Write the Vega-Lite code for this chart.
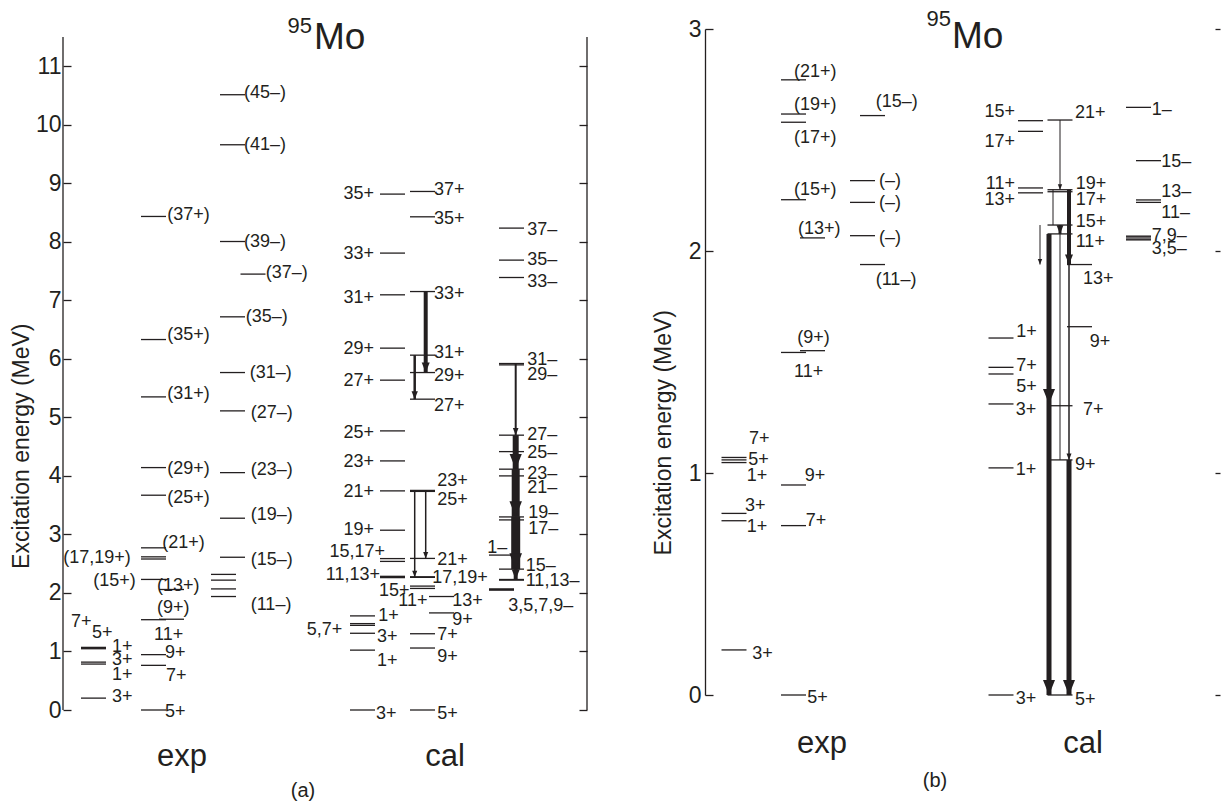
{
"$schema":"https://vega.github.io/schema/vega-lite/v6.json",
"padding":{"left":10,"top":7,"right":0,"bottom":0},
"bounds":"flush",
"spacing":118,
"config":{"view":{"stroke":null},"font":"Liberation Sans","axis":{"labelFont":"Liberation Sans","titleFont":"Liberation Sans","grid":false},"text":{"font":"Liberation Sans","color":"#231f20"}},
"datasets":{
"one":[{}],
"levA":[
{"col":3.05,"E":0.203},{"col":3.05,"E":0.785},{"col":3.05,"E":0.818},{"col":3.05,"E":1.047},{"col":3.05,"E":1.059},{"col":3.05,"E":1.070},
{"col":9.05,"E":0},{"col":9.05,"E":0.763},{"col":9.05,"E":0.946},{"col":9.05,"E":1.543},{"col":9.05,"E":2.231},{"col":9.05,"E":2.580},{"col":9.05,"E":2.617},{"col":9.05,"E":2.771},{"col":9.05,"E":3.670},{"col":9.05,"E":4.142},{"col":9.05,"E":5.350},{"col":9.05,"E":6.330},{"col":9.05,"E":8.433},
{"col":10.85,"E":1.551},{"col":10.85,"E":2.059},
{"col":16.05,"E":1.939},{"col":16.05,"E":2.069},{"col":16.05,"E":2.219},{"col":16.05,"E":2.317},
{"col":16.95,"E":2.610},{"col":16.95,"E":3.277},{"col":16.95,"E":4.056},{"col":16.95,"E":5.111},{"col":16.95,"E":5.766},{"col":16.95,"E":6.718},{"col":16.95,"E":8.005},{"col":16.95,"E":9.658},{"col":16.95,"E":10.513},
{"col":19.0,"E":7.448},
{"col":29.95,"E":0},{"col":29.95,"E":1.023},{"col":29.95,"E":1.311},{"col":29.95,"E":1.446},{"col":29.95,"E":1.476},{"col":29.95,"E":1.608},
{"col":32.95,"E":2.262},{"col":32.95,"E":2.284},{"col":32.95,"E":2.539},{"col":32.95,"E":2.587},{"col":32.95,"E":3.072},{"col":32.95,"E":3.744},{"col":32.95,"E":4.256},{"col":32.95,"E":4.769},{"col":32.95,"E":5.636},{"col":32.95,"E":6.183},{"col":32.95,"E":7.094},{"col":32.95,"E":7.807},{"col":32.95,"E":8.815},
{"col":35.95,"E":0},{"col":35.95,"E":1.059},{"col":35.95,"E":1.303},{"col":35.95,"E":2.077},{"col":35.95,"E":2.117},{"col":35.95,"E":2.267},{"col":35.95,"E":2.276},{"col":35.95,"E":2.590},{"col":35.95,"E":3.735},{"col":35.95,"E":3.752},{"col":35.95,"E":5.311},{"col":35.95,"E":5.766},{"col":35.95,"E":6.063},{"col":35.95,"E":7.150},{"col":35.95,"E":8.427},{"col":35.95,"E":8.860},
{"col":37.85,"E":1.659},{"col":37.85,"E":1.939},
{"col":44.85,"E":2.219},{"col":44.85,"E":2.230},{"col":44.85,"E":2.407},{"col":44.85,"E":3.248},{"col":44.85,"E":3.299},{"col":44.85,"E":4.000},{"col":44.85,"E":4.115},{"col":44.85,"E":4.415},{"col":44.85,"E":4.696},{"col":44.85,"E":5.897},{"col":44.85,"E":5.920},{"col":44.85,"E":7.390},{"col":44.85,"E":7.687},{"col":44.85,"E":8.234},
{"col":43.85,"E":2.647},{"col":43.85,"E":2.050},{"col":43.85,"E":2.054},{"col":43.85,"E":2.063},{"col":43.85,"E":2.067}
],
"trA":[
{"col":36.27,"Ei":7.150,"Ef":5.766,"w":4},
{"col":35.17,"Ei":6.063,"Ef":5.311,"w":2.5},
{"col":35.17,"Ei":3.744,"Ef":2.271,"w":1.5},
{"col":36.27,"Ei":3.744,"Ef":2.590,"w":1.5},
{"col":45.27,"Ei":5.920,"Ef":4.696,"w":2},
{"col":45.27,"Ei":4.696,"Ef":4.115,"w":6},
{"col":45.27,"Ei":4.115,"Ef":3.299,"w":8},
{"col":45.27,"Ei":3.299,"Ef":2.407,"w":9},
{"col":45.27,"Ei":2.407,"Ef":2.230,"w":4}
],
"labA":[
{"t":"3+","col":4.9,"E":0.222},{"t":"1+","col":4.9,"E":0.598},{"t":"3+","col":4.9,"E":0.855},{"t":"1+","col":4.9,"E":1.077},{"t":"5+","col":2.9,"E":1.308},{"t":"7+","col":0.8,"E":1.496},
{"t":"5+","col":10.2,"E":-0.034},{"t":"7+","col":10.3,"E":0.581},{"t":"9+","col":10.2,"E":0.966},{"t":"11+","col":9.1,"E":1.282},{"t":"(9+)","col":9.4,"E":1.735},{"t":"(13+)","col":9.4,"E":2.12},
{"t":"(15+)","col":7.27,"E":2.205,"side":"l"},{"t":"(17,19+)","col":6.77,"E":2.59,"side":"l"},
{"t":"(21+)","col":9.93,"E":2.846},{"t":"(25+)","col":10.43,"E":3.615},{"t":"(29+)","col":10.43,"E":4.12},{"t":"(31+)","col":10.43,"E":5.402},{"t":"(35+)","col":10.43,"E":6.41},{"t":"(37+)","col":10.43,"E":8.456},
{"t":"(11–)","col":18.77,"E":1.795},{"t":"(15–)","col":18.77,"E":2.564},{"t":"(19–)","col":18.77,"E":3.333},{"t":"(23–)","col":18.77,"E":4.103},{"t":"(27–)","col":18.77,"E":5.068},{"t":"(31–)","col":18.67,"E":5.752},{"t":"(35–)","col":18.27,"E":6.718},{"t":"(37–)","col":20.27,"E":7.475},{"t":"(39–)","col":18.1,"E":8.005},{"t":"(41–)","col":18.1,"E":9.658},{"t":"(45–)","col":18.1,"E":10.54},
{"t":"3+","col":31.3,"E":-0.06},{"t":"1+","col":31.4,"E":0.838},{"t":"3+","col":31.4,"E":1.248},{"t":"5,7+","col":27.93,"E":1.368,"side":"l"},{"t":"1+","col":31.53,"E":1.607},
{"t":"11,13+","col":31.7,"E":2.30,"side":"l"},{"t":"15,17+","col":32.2,"E":2.70,"side":"l"},{"t":"19+","col":31.1,"E":3.077,"side":"l"},{"t":"21+","col":31.1,"E":3.726,"side":"l"},{"t":"23+","col":31.1,"E":4.239,"side":"l"},{"t":"25+","col":31.1,"E":4.74,"side":"l"},{"t":"27+","col":31.1,"E":5.624,"side":"l"},{"t":"29+","col":31.1,"E":6.166,"side":"l"},{"t":"31+","col":31.1,"E":7.048,"side":"l"},{"t":"33+","col":31.1,"E":7.79,"side":"l"},{"t":"35+","col":31.1,"E":8.815,"side":"l"},
{"t":"5+","col":37.43,"E":-0.06},{"t":"9+","col":37.43,"E":0.906},{"t":"7+","col":37.43,"E":1.282},{"t":"9+","col":38.93,"E":1.538},{"t":"13+","col":38.93,"E":1.863},{"t":"11+","col":33.53,"E":1.863},{"t":"15+","col":31.6,"E":2.034},{"t":"17,19+","col":36.93,"E":2.256},{"t":"21+","col":37.43,"E":2.564},{"t":"23+","col":37.43,"E":3.915},{"t":"25+","col":37.43,"E":3.59},
{"t":"27+","col":37.1,"E":5.197},{"t":"29+","col":37.1,"E":5.709},{"t":"31+","col":37.1,"E":6.094},{"t":"33+","col":37.1,"E":7.103},{"t":"35+","col":37.1,"E":8.388},{"t":"37+","col":37.1,"E":8.889},
{"t":"37–","col":46.43,"E":8.2},{"t":"35–","col":46.43,"E":7.687},{"t":"33–","col":46.43,"E":7.32},{"t":"31–","col":46.43,"E":5.983},{"t":"29–","col":46.43,"E":5.726},{"t":"27–","col":46.43,"E":4.70},{"t":"25–","col":46.43,"E":4.385},{"t":"23–","col":46.43,"E":4.034},{"t":"21–","col":46.43,"E":3.786},{"t":"19–","col":46.53,"E":3.359},{"t":"17–","col":46.53,"E":3.085},{"t":"15–","col":46.27,"E":2.462},{"t":"11,13–","col":46.27,"E":2.205},{"t":"3,5,7,9–","col":44.53,"E":1.778},{"t":"1–","col":42.43,"E":2.769}
],
"levB":[
{"col":2.9,"E":0.203},{"col":2.9,"E":0.785},{"col":2.9,"E":0.818},{"col":2.9,"E":1.047},{"col":2.9,"E":1.059},{"col":2.9,"E":1.070},
{"col":8.85,"E":0},{"col":8.85,"E":0.763},{"col":8.85,"E":0.946},{"col":8.85,"E":1.543},{"col":8.85,"E":2.231},{"col":8.85,"E":2.580},{"col":8.85,"E":2.617},{"col":8.85,"E":2.771},
{"col":10.75,"E":1.551},{"col":10.75,"E":2.059},
{"col":15.75,"E":2.069},{"col":15.75,"E":2.219},{"col":15.75,"E":2.317},
{"col":16.75,"E":1.939},{"col":16.75,"E":2.610},
{"col":29.6,"E":0},{"col":29.6,"E":1.023},{"col":29.6,"E":1.311},{"col":29.6,"E":1.446},{"col":29.6,"E":1.476},{"col":29.6,"E":1.608},
{"col":32.55,"E":2.262},{"col":32.55,"E":2.284},{"col":32.55,"E":2.539},{"col":32.55,"E":2.587},
{"col":35.5,"E":0},{"col":35.5,"E":1.059},{"col":35.5,"E":1.303},{"col":35.5,"E":2.077},{"col":35.5,"E":2.117},{"col":35.5,"E":2.267},{"col":35.5,"E":2.276},{"col":35.5,"E":2.590},
{"col":37.45,"E":1.659},{"col":37.45,"E":1.939},
{"col":43.35,"E":2.647},{"col":43.35,"E":2.050},{"col":43.35,"E":2.054},{"col":43.35,"E":2.063},{"col":43.35,"E":2.067},
{"col":44.35,"E":2.407},{"col":44.35,"E":2.219},{"col":44.35,"E":2.230}
],
"trB":[
{"col":35.5,"Ei":2.590,"Ef":2.276,"w":1},
{"col":36.4,"Ei":2.276,"Ef":1.939,"w":4},
{"col":34.8,"Ei":2.276,"Ef":2.117,"w":1,"arrow":false},
{"col":35.5,"Ei":2.117,"Ef":2.077,"w":3},
{"col":33.5,"Ei":2.117,"Ef":1.939,"w":1},
{"col":34.4,"Ei":2.077,"Ef":1.311,"w":5},
{"col":34.4,"Ei":1.311,"Ef":0,"w":5},
{"col":35.5,"Ei":2.077,"Ef":1.059,"w":1,"arrow":false},
{"col":36.4,"Ei":1.939,"Ef":1.059,"w":1.5},
{"col":36.4,"Ei":1.059,"Ef":0,"w":5}
],
"labB":[
{"t":"3+","col":4.73,"E":0.185},{"t":"3+","col":4.0,"E":0.851},{"t":"1+","col":4.17,"E":0.757},{"t":"7+","col":4.4,"E":1.155},{"t":"5+","col":4.33,"E":1.06},{"t":"1+","col":4.17,"E":0.986},
{"t":"5+","col":10.23,"E":-0.012},{"t":"7+","col":10.07,"E":0.784},{"t":"9+","col":9.97,"E":0.986},{"t":"11+","col":8.9,"E":1.457},{"t":"(9+)","col":9.23,"E":1.607},{"t":"(13+)","col":9.3,"E":2.098},{"t":"(15+)","col":8.9,"E":2.276},{"t":"(17+)","col":8.9,"E":2.508},{"t":"(19+)","col":8.9,"E":2.659},{"t":"(21+)","col":8.9,"E":2.808},
{"t":"(15–)","col":17.07,"E":2.673},{"t":"(–)","col":17.4,"E":2.317},{"t":"(–)","col":17.4,"E":2.218},{"t":"(–)","col":17.4,"E":2.058},{"t":"(11–)","col":17.07,"E":1.871},
{"t":"15+","col":31.0,"E":2.625,"side":"l"},{"t":"17+","col":31.0,"E":2.49,"side":"l"},{"t":"11+","col":31.0,"E":2.304,"side":"l"},{"t":"13+","col":31.0,"E":2.228,"side":"l"},
{"t":"1+","col":31.13,"E":1.637},{"t":"7+","col":31.13,"E":1.484},{"t":"5+","col":31.13,"E":1.386},{"t":"3+","col":31.07,"E":1.285},{"t":"1+","col":31.07,"E":1.015},{"t":"3+","col":31.07,"E":-0.017},
{"t":"21+","col":37.0,"E":2.623},{"t":"19+","col":37.07,"E":2.304},{"t":"17+","col":37.07,"E":2.228},{"t":"15+","col":37.07,"E":2.129},{"t":"11+","col":37.07,"E":2.039},{"t":"13+","col":37.8,"E":1.874},{"t":"9+","col":38.47,"E":1.589},{"t":"7+","col":37.8,"E":1.282},{"t":"9+","col":37.0,"E":1.037},{"t":"5+","col":37.0,"E":-0.021},
{"t":"1–","col":44.67,"E":2.637},{"t":"15–","col":45.63,"E":2.403},{"t":"13–","col":45.63,"E":2.267},{"t":"11–","col":45.63,"E":2.173},{"t":"7,9–","col":44.67,"E":2.069},{"t":"3,5–","col":44.67,"E":2.009}
]
},
"hconcat":[
{
"width":524,"height":681,
"resolve":{"axis":{"y":"independent"}},
"layer":[
{"data":{"name":"one"},"mark":{"type":"rule","color":"#231f20","strokeWidth":1.3},
"encoding":{"x":{"datum":0,"type":"quantitative","scale":{"domain":[0,52.4],"nice":false,"zero":false},"axis":null},
"y":{"datum":0,"type":"quantitative","scale":{"domain":[0,11.636],"nice":false,"zero":false},
"axis":{"orient":"left","values":[0,1,2,3,4,5,6,7,8,9,10,11],"tickSize":-8,"tickWidth":1.3,"tickColor":"#231f20","domain":false,"labelFontSize":23,"labelColor":"#231f20","labelPadding":10,"title":"Excitation energy  (MeV)","titleFontSize":23,"titleFontWeight":"normal","titleColor":"#231f20","titleX":-42,"titleY":416.7,"titleAngle":-90,"titleAlign":"center","titleBaseline":"middle"}},
"y2":{"datum":11.5}}},
{"data":{"name":"one"},"mark":{"type":"rule","color":"#231f20","strokeWidth":1.3},
"encoding":{"x":{"datum":52.4,"type":"quantitative","scale":{"domain":[0,52.4],"nice":false,"zero":false},"axis":null},
"y":{"datum":0,"type":"quantitative","scale":{"domain":[0,11.636],"nice":false,"zero":false},
"axis":{"orient":"right","values":[0,1,2,3,4,5,6,7,8,9,10,11],"tickSize":-8,"tickWidth":1.3,"tickColor":"#231f20","labels":false,"domain":false,"title":null}},
"y2":{"datum":11.5}}},
{"data":{"name":"levA"},"mark":{"type":"rule","xOffset":-12.5,"x2Offset":12.5,"color":"#231f20","strokeWidth":1.3},
"encoding":{"x":{"field":"col","type":"quantitative","scale":{"domain":[0,52.4],"nice":false,"zero":false},"axis":null},"x2":{"field":"col"},
"y":{"field":"E","type":"quantitative","scale":{"domain":[0,11.636],"nice":false,"zero":false},"axis":null}}},
{"data":{"name":"trA"},"mark":{"type":"rule","color":"#231f20"},
"encoding":{"x":{"field":"col","type":"quantitative","scale":{"domain":[0,52.4],"nice":false,"zero":false},"axis":null},
"y":{"field":"Ei","type":"quantitative","scale":{"domain":[0,11.636],"nice":false,"zero":false},"axis":null},"y2":{"field":"Ef"},
"strokeWidth":{"field":"w","type":"quantitative","scale":{"domain":[0,10],"range":[0,10]},"legend":null}}},
{"data":{"name":"trA"},"transform":[{"filter":"datum.arrow !== false"}],"mark":{"type":"point","shape":"M-0.4,-1L0.4,-1L0,0Z","filled":true,"color":"#231f20","opacity":1,"strokeWidth":0},
"encoding":{"x":{"field":"col","type":"quantitative","scale":{"domain":[0,52.4],"nice":false,"zero":false},"axis":null},
"y":{"field":"Ef","type":"quantitative","scale":{"domain":[0,11.636],"nice":false,"zero":false},"axis":null},
"size":{"field":"w","type":"quantitative","scale":{"domain":[1,2,4,5,9],"range":[120,200,400,900,1000]},"legend":null}}},
{"data":{"name":"labA"},"transform":[{"filter":"datum.side !== 'l'"}],"mark":{"type":"text","align":"left","baseline":"middle","fontSize":18,"color":"#231f20"},
"encoding":{"x":{"field":"col","type":"quantitative","scale":{"domain":[0,52.4],"nice":false,"zero":false},"axis":null},
"y":{"field":"E","type":"quantitative","scale":{"domain":[0,11.636],"nice":false,"zero":false},"axis":null},"text":{"field":"t"}}},
{"data":{"name":"labA"},"transform":[{"filter":"datum.side === 'l'"}],"mark":{"type":"text","align":"right","baseline":"middle","fontSize":18,"color":"#231f20"},
"encoding":{"x":{"field":"col","type":"quantitative","scale":{"domain":[0,52.4],"nice":false,"zero":false},"axis":null},
"y":{"field":"E","type":"quantitative","scale":{"domain":[0,11.636],"nice":false,"zero":false},"axis":null},"text":{"field":"t"}}},
{"data":{"name":"one"},"mark":{"type":"text","text":"95","align":"right","baseline":"alphabetic","fontSize":22,"color":"#231f20"},
"encoding":{"x":{"datum":24.9,"type":"quantitative","scale":{"domain":[0,52.4],"nice":false,"zero":false},"axis":null},"y":{"datum":11.574,"type":"quantitative","scale":{"domain":[0,11.636],"nice":false,"zero":false},"axis":null}}},
{"data":{"name":"one"},"mark":{"type":"text","text":"Mo","align":"left","baseline":"alphabetic","fontSize":37,"color":"#231f20"},
"encoding":{"x":{"datum":25.1,"type":"quantitative","scale":{"domain":[0,52.4],"nice":false,"zero":false},"axis":null},"y":{"datum":11.30,"type":"quantitative","scale":{"domain":[0,11.636],"nice":false,"zero":false},"axis":null}}},
{"data":{"name":"one"},"mark":{"type":"text","text":"exp","align":"center","baseline":"alphabetic","fontSize":31,"color":"#231f20"},
"encoding":{"x":{"datum":11.9,"type":"quantitative","scale":{"domain":[0,52.4],"nice":false,"zero":false},"axis":null},"y":{"datum":-0.952,"type":"quantitative","scale":{"domain":[0,11.636],"nice":false,"zero":false},"axis":null}}},
{"data":{"name":"one"},"mark":{"type":"text","text":"cal","align":"center","baseline":"alphabetic","fontSize":31,"color":"#231f20"},
"encoding":{"x":{"datum":38.2,"type":"quantitative","scale":{"domain":[0,52.4],"nice":false,"zero":false},"axis":null},"y":{"datum":-0.952,"type":"quantitative","scale":{"domain":[0,11.636],"nice":false,"zero":false},"axis":null}}},
{"data":{"name":"one"},"mark":{"type":"text","text":"(a)","align":"center","baseline":"alphabetic","fontSize":20,"color":"#231f20"},
"encoding":{"x":{"datum":24.0,"type":"quantitative","scale":{"domain":[0,52.4],"nice":false,"zero":false},"axis":null},"y":{"datum":-1.482,"type":"quantitative","scale":{"domain":[0,11.636],"nice":false,"zero":false},"axis":null}}}
]
},
{
"width":510,"height":666,
"resolve":{"axis":{"y":"independent"}},
"layer":[
{"data":{"name":"levB"},"mark":{"type":"rule","xOffset":-12.5,"x2Offset":12.5,"color":"#231f20","strokeWidth":1.3},
"encoding":{"x":{"field":"col","type":"quantitative","scale":{"domain":[0,51],"nice":false,"zero":false},"axis":null},"x2":{"field":"col"},
"y":{"field":"E","type":"quantitative","scale":{"domain":[0,3],"nice":false,"zero":false},
"axis":{"orient":"left","values":[0,1,2,3],"tickSize":-8,"tickWidth":1.3,"tickColor":"#231f20","domain":true,"domainColor":"#231f20","domainWidth":1.3,"labelFontSize":23,"labelColor":"#231f20","labelPadding":12,"title":"Excitation energy  (MeV)","titleFontSize":23,"titleFontWeight":"normal","titleColor":"#231f20","titleX":-42,"titleY":403.2,"titleAngle":-90,"titleAlign":"center","titleBaseline":"middle"}}}},
{"data":{"name":"trB"},"mark":{"type":"rule","color":"#231f20"},
"encoding":{"x":{"field":"col","type":"quantitative","scale":{"domain":[0,51],"nice":false,"zero":false},"axis":null},
"y":{"field":"Ei","type":"quantitative","scale":{"domain":[0,3],"nice":false,"zero":false},"axis":null},"y2":{"field":"Ef"},
"strokeWidth":{"field":"w","type":"quantitative","scale":{"domain":[0,10],"range":[0,10]},"legend":null}}},
{"data":{"name":"trB"},"transform":[{"filter":"datum.arrow !== false"}],"mark":{"type":"point","shape":"M-0.4,-1L0.4,-1L0,0Z","filled":true,"color":"#231f20","opacity":1,"strokeWidth":0},
"encoding":{"x":{"field":"col","type":"quantitative","scale":{"domain":[0,51],"nice":false,"zero":false},"axis":null},
"y":{"field":"Ef","type":"quantitative","scale":{"domain":[0,3],"nice":false,"zero":false},"axis":null},
"size":{"field":"w","type":"quantitative","scale":{"domain":[1,2,4,5,9],"range":[120,200,400,1000,1100]},"legend":null}}},
{"data":{"name":"labB"},"transform":[{"filter":"datum.side !== 'l'"}],"mark":{"type":"text","align":"left","baseline":"middle","fontSize":18,"color":"#231f20"},
"encoding":{"x":{"field":"col","type":"quantitative","scale":{"domain":[0,51],"nice":false,"zero":false},"axis":null},
"y":{"field":"E","type":"quantitative","scale":{"domain":[0,3],"nice":false,"zero":false},"axis":null},"text":{"field":"t"}}},
{"data":{"name":"labB"},"transform":[{"filter":"datum.side === 'l'"}],"mark":{"type":"text","align":"right","baseline":"middle","fontSize":18,"color":"#231f20"},
"encoding":{"x":{"field":"col","type":"quantitative","scale":{"domain":[0,51],"nice":false,"zero":false},"axis":null},
"y":{"field":"E","type":"quantitative","scale":{"domain":[0,3],"nice":false,"zero":false},"axis":null},"text":{"field":"t"}}},
{"data":{"name":"one"},"mark":{"type":"text","text":"95","align":"right","baseline":"alphabetic","fontSize":22,"color":"#231f20"},
"encoding":{"x":{"datum":24.6,"type":"quantitative","scale":{"domain":[0,51],"nice":false,"zero":false},"axis":null},"y":{"datum":3.015,"type":"quantitative","scale":{"domain":[0,3],"nice":false,"zero":false},"axis":null}}},
{"data":{"name":"one"},"mark":{"type":"text","text":"Mo","align":"left","baseline":"alphabetic","fontSize":37,"color":"#231f20"},
"encoding":{"x":{"datum":24.7,"type":"quantitative","scale":{"domain":[0,51],"nice":false,"zero":false},"axis":null},"y":{"datum":2.916,"type":"quantitative","scale":{"domain":[0,3],"nice":false,"zero":false},
"axis":{"orient":"right","values":[0,1,2,3],"tickSize":5,"tickWidth":1.3,"tickColor":"#231f20","labels":false,"domain":false,"title":null}}}},
{"data":{"name":"one"},"mark":{"type":"text","text":"exp","align":"center","baseline":"alphabetic","fontSize":31,"color":"#231f20"},
"encoding":{"x":{"datum":11.7,"type":"quantitative","scale":{"domain":[0,51],"nice":false,"zero":false},"axis":null},"y":{"datum":-0.26,"type":"quantitative","scale":{"domain":[0,3],"nice":false,"zero":false},"axis":null}}},
{"data":{"name":"one"},"mark":{"type":"text","text":"cal","align":"center","baseline":"alphabetic","fontSize":31,"color":"#231f20"},
"encoding":{"x":{"datum":37.8,"type":"quantitative","scale":{"domain":[0,51],"nice":false,"zero":false},"axis":null},"y":{"datum":-0.26,"type":"quantitative","scale":{"domain":[0,3],"nice":false,"zero":false},"axis":null}}},
{"data":{"name":"one"},"mark":{"type":"text","text":"(b)","align":"center","baseline":"alphabetic","fontSize":20,"color":"#231f20"},
"encoding":{"x":{"datum":23.0,"type":"quantitative","scale":{"domain":[0,51],"nice":false,"zero":false},"axis":null},"y":{"datum":-0.413,"type":"quantitative","scale":{"domain":[0,3],"nice":false,"zero":false},"axis":null}}}
]
}
]
}
